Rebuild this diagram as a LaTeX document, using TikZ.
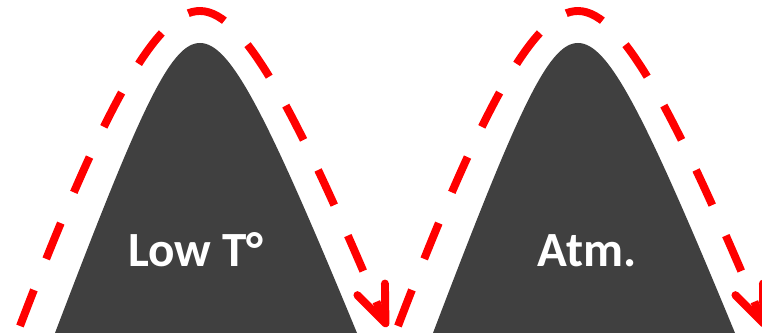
\documentclass[tikz,border=0pt]{standalone}
\usepackage{fontspec}
\setmainfont{Carlito}
\usetikzlibrary{arrows.meta}
\definecolor{moundgray}{HTML}{404040}
\definecolor{pathred}{HTML}{FF0000}
\begin{document}
\begin{tikzpicture}[x=0.02cm, y=-0.02cm,
    mound/.style={fill=moundgray},
    flow/.style={draw=pathred, line width=4.5pt, dash pattern=on 22pt off 19pt,
      -{Straight Barb[length=21pt, width=17pt, round]}},
    label/.style={text=white, font=\bfseries\fontsize{28}{30}\selectfont, anchor=base}]
        \useasboundingbox (0,0) rectangle (762,333);
        \clip (0,0) rectangle (762,333);

        % Mound (left)
        \fill[mound] (55,333) .. controls (140,110) and (170,43) .. (200,43)
            .. controls (230,43) and (265,110) .. (357,333) -- cycle;
        \node[label] (lowT) at (196,267) {Low T°};

        % Dashed path over the left mound
        \draw[flow] (20,326) .. controls (110,90) and (160,11) .. (200,11)
            .. controls (245,11) and (300,120) .. (387,327);

        % Mound (right)
        \fill[mound] (433,333) .. controls (518,110) and (548,43) .. (578,43)
            .. controls (608,43) and (643,110) .. (735,333) -- cycle;
        \node[label] (atm) at (587,267) {Atm.};

        % Dashed path over the right mound
        \draw[flow] (398,326) .. controls (488,90) and (538,11) .. (578,11)
            .. controls (623,11) and (678,120) .. (765,327);
\end{tikzpicture}
\end{document}
